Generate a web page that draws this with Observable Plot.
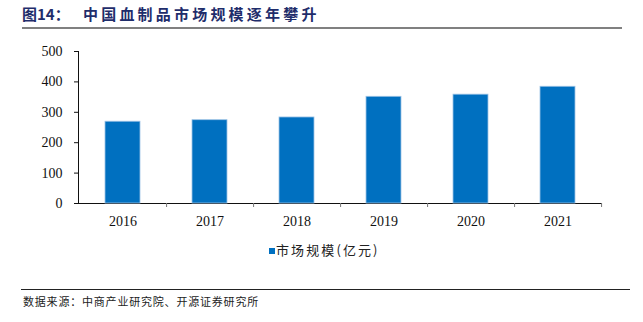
<!DOCTYPE html>
<html><head><meta charset="utf-8">
<script src="https://cdn.jsdelivr.net/npm/d3@7"></script>
<script src="https://cdn.jsdelivr.net/npm/@observablehq/plot@0.6"></script>
<style>
body{margin:0;background:#fff;}
#wrap{position:relative;width:643px;height:322px;overflow:hidden;background:#fff;}
.abs{position:absolute;white-space:nowrap;}
#title{left:22px;top:5px;font-family:"Noto Sans CJK SC",sans-serif;font-weight:bold;font-size:15px;color:#1F2D6B;line-height:18px;}
#title .t{position:absolute;left:61px;top:0;letter-spacing:3.2px;}
#tline{left:22px;top:27px;width:600px;height:2px;background:#808080;}
#chart{left:0;top:30px;}
#legend{left:269px;top:242px;font-family:"Noto Sans CJK SC",sans-serif;font-size:13px;color:#222;line-height:16px;letter-spacing:2.1px;}
#legend .sw{display:inline-block;width:6px;height:6px;background:#0070C0;margin-right:1px;vertical-align:1px;}
#bline{left:21px;top:289px;width:609px;height:1px;background:#222;}
#source{left:23px;top:293px;font-family:"Noto Sans CJK SC",sans-serif;font-size:11px;color:#222;letter-spacing:0.8px;line-height:17px;}
</style></head>
<body><div id="wrap">
<div id="title" class="abs">图14：<span class="t">中国血制品市场规模逐年攀升</span></div>
<div id="tline" class="abs"></div>
<div id="chart" class="abs"></div>
<div id="legend" class="abs"><span class="sw"></span>市场规模(亿元)</div>
<div id="bline" class="abs"></div>
<div id="source" class="abs">数据来源：中商产业研究院、开源证券研究所</div>
</div>
<script>
const years = ["2016","2017","2018","2019","2020","2021"];
const marketSize = [269, 274, 283, 351, 358, 384];
const yTicks = [0,100,200,300,400,500];
const data = years.map((y,i)=>({year:y, value:marketSize[i]}));

const W = 643, H = 200, ML = 78, MR = 42;
const step = (W - ML - MR) / years.length;

const chart = Plot.plot({
  width: W, height: H,
  marginLeft: ML, marginRight: MR, marginTop: 21, marginBottom: 27,
  style: {fontFamily: '"Liberation Serif","Times New Roman",serif', fontSize: "14px", color: "#111", background: "#fff"},
  x: {domain: years, paddingInner: 0.6, paddingOuter: 0.3, label: null, tickSize: 0, tickPadding: 13, line: true},
  y: {domain: [0,500], ticks: yTicks, label: null, tickSize: 4, tickPadding: 12, line: true},
  marks: [
    Plot.barY(data, {x: "year", y: "value", fill: "#0070C0", stroke: "#9DC3E6", strokeWidth: 0.8}),
    Plot.ruleX(years, {x: d=>d, dx: step/2, y1: 0, y2: 0, insetBottom: -4, stroke: "#777"})
  ]
});
chart.querySelectorAll("g[aria-label='x-axis'] path, g[aria-label='y-axis'] path, g[aria-label='y-axis'] line").forEach(e=>e.setAttribute("stroke","#777"));
document.getElementById("chart").appendChild(chart);
</script>
</body></html>
